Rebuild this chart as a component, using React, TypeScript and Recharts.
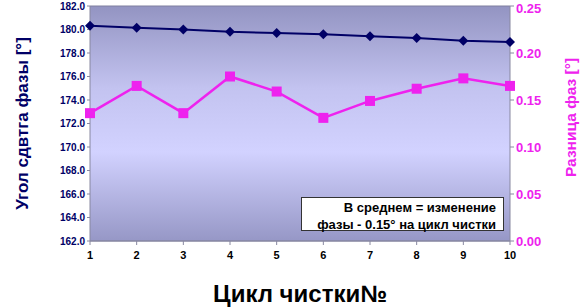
import { CartesianGrid, Line, LineChart, XAxis, YAxis } from "recharts";

const cycles = [1, 2, 3, 4, 5, 6, 7, 8, 9, 10];
const phaseAngle = [180.32, 180.15, 180.01, 179.81, 179.7, 179.59, 179.42, 179.27, 179.04, 178.93];
const phaseDiff = [0.136, 0.165, 0.136, 0.175, 0.159, 0.131, 0.149, 0.162, 0.173, 0.165];
const leftTicks = [162, 164, 166, 168, 170, 172, 174, 176, 178, 180, 182];
const rightTicks = [0, 0.05, 0.1, 0.15, 0.2, 0.25];

const data = cycles.map((c, i) => ({ cycle: c, angle: phaseAngle[i], diff: phaseDiff[i] }));

const NAVY = "#000066";
const PINK = "#ee22ee";
const font = "'Liberation Sans', Arial, sans-serif";

export default function App() {
  return (
    <div style={{ position: "absolute", left: 0, top: 0, width: 584, height: 308, background: "#fff", fontFamily: font }}>
      <LineChart width={584} height={308} data={data} margin={{ top: 6, right: 0, left: 0, bottom: 0 }}>
        <defs>
          <linearGradient id="bg" x1="0" y1="0" x2="0" y2="1">
            <stop offset="0%" stopColor="#9394c2" />
            <stop offset="35%" stopColor="#c3c3f0" />
            <stop offset="62%" stopColor="#d2d2ff" />
            <stop offset="100%" stopColor="#9697c6" />
          </linearGradient>
        </defs>
        <CartesianGrid vertical={false} fill="url(#bg)" stroke="#7f7f9f" strokeWidth={1} />
        <XAxis
          dataKey="cycle"
          type="number"
          domain={[1, 10]}
          ticks={cycles}
          stroke="#8888a0"
          tickSize={4}
          tick={{ fill: "#000", fontSize: 11, fontWeight: 700, fontFamily: font, dy: 4 }}
          height={67}
          label={{ value: "Цикл чистки№", position: "insideBottom", offset: 6, fill: "#000", fontSize: 24, fontWeight: 700, fontFamily: font }}
        />
        <YAxis
          yAxisId="left"
          domain={[162, 182]}
          ticks={leftTicks}
          tickFormatter={(v: number) => v.toFixed(1)}
          stroke="#8888a0"
          tickSize={3}
          width={90}
          tick={{ fill: NAVY, fontSize: 10, fontWeight: 700, fontFamily: font }}
          label={{ value: "Угол сдвтга фазы [°]", angle: -90, position: "insideLeft", offset: 22, fill: NAVY, fontSize: 17, fontWeight: 700, fontFamily: font, style: { textAnchor: "middle" } }}
        />
        <YAxis
          yAxisId="right"
          orientation="right"
          domain={[0, 0.25]}
          ticks={rightTicks}
          tickFormatter={(v: number) => v.toFixed(2)}
          stroke="#8888a0"
          tickSize={4}
          width={74}
          tick={{ fill: PINK, fontSize: 13, fontWeight: 700, fontFamily: font }}
          label={{ value: "Разница фаз [°]", angle: -90, position: "insideRight", offset: 14, dy: -6, fill: PINK, fontSize: 15.5, fontWeight: 700, fontFamily: font, style: { textAnchor: "middle" } }}
        />
        <Line
          yAxisId="left"
          dataKey="angle"
          stroke={NAVY}
          strokeWidth={2}
          isAnimationActive={false}
          dot={(p: any) => (
            <path
              key={p.index}
              d={`M${p.cx},${p.cy - 5}L${p.cx + 5},${p.cy}L${p.cx},${p.cy + 5}L${p.cx - 5},${p.cy}Z`}
              fill={NAVY}
            />
          )}
        />
        <Line
          yAxisId="right"
          dataKey="diff"
          stroke={PINK}
          strokeWidth={2.5}
          isAnimationActive={false}
          dot={(p: any) => <rect key={p.index} x={p.cx - 5} y={p.cy - 5} width={10} height={10} fill={PINK} />}
        />
      </LineChart>
      <div
        style={{
          position: "absolute",
          left: 301,
          top: 197,
          width: 203,
          height: 34,
          background: "#fff",
          border: "1px solid #333",
          fontSize: 13,
          fontWeight: 700,
          textAlign: "right",
          lineHeight: "17px",
          boxSizing: "border-box",
          paddingRight: 7,
          paddingTop: 1,
        }}
      >
        <div>В среднем = изменение</div>
        <div>фазы - 0.15° на цикл чистки</div>
      </div>
    </div>
  );
}
